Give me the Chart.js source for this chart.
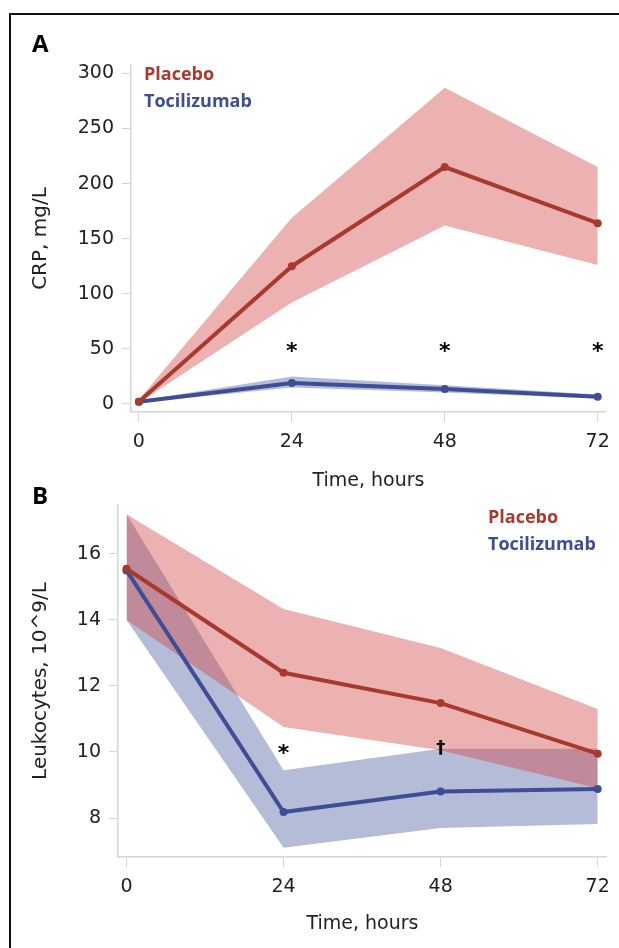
<!DOCTYPE html>
<html>
<head>
<meta charset="utf-8">
<script src="https://cdn.jsdelivr.net/npm/chart.js@4.4.0/dist/chart.umd.min.js"></script>
<style>
  html, body { margin: 0; padding: 0; background: #fff; }
  body { width: 619px; height: 948px; overflow: hidden; position: relative; }
  .rule { position: absolute; background: #111; }
  #ruleTop { left: 9px; top: 13px; width: 610px; height: 2px; }
  #ruleLeft { left: 9px; top: 13px; width: 2px; height: 935px; }
  canvas { position: absolute; left: 0; }
  #chartA { top: 0; }
  #chartB { top: 470px; }
</style>
</head>
<body>
<div class="rule" id="ruleTop"></div>
<div class="rule" id="ruleLeft"></div>
<canvas id="chartA" width="619" height="500" style="width:619px;height:500px"></canvas>
<canvas id="chartB" width="619" height="478" style="width:619px;height:478px"></canvas>
<script>
var hours = [0, 24, 48, 72];

// panel A: CRP, mg/L
var crpPlacebo = [2, 125, 215, 164];
var crpPlaceboLow = [1, 92, 162, 126];
var crpPlaceboHigh = [4, 169, 287, 215];
var crpToci = [2, 19, 13.5, 6.5];
var crpTociLow = [1, 15, 10.5, 5];
var crpTociHigh = [3, 25, 17, 8.5];
var crpTicks = [0, 50, 100, 150, 200, 250, 300];
var crpMarks = ["*", "*", "*"];
var crpMarkHours = [24, 48, 72];
var crpMarkValues = [52, 52, 52];

// panel B: leukocytes, 10^9/L
var wbcPlacebo = [15.55, 12.4, 11.48, 9.95];
var wbcPlaceboLow = [14.0, 10.76, 10.05, 8.9];
var wbcPlaceboHigh = [17.2, 14.33, 13.15, 11.3];
var wbcToci = [15.5, 8.18, 8.8, 8.88];
var wbcTociLow = [14.0, 7.1, 7.7, 7.82];
var wbcTociHigh = [17.2, 9.45, 10.1, 10.1];
var wbcTicks = [8, 10, 12, 14, 16];
var wbcMarks = ["*", "\u2020"];
var wbcMarkHours = [24, 48];
var wbcMarkValues = [10.1, 10.15];

var red = "#a9392c";
var blue = "#3d4e96";
var redFill = "rgba(210, 70, 70, 0.42)";
var blueFill = "rgba(60, 80, 150, 0.38)";
var axisGray = "#d6d6d6";
var labelFont = "'DejaVu Sans', sans-serif";
var boldFont = "'Open Sans', sans-serif";

Chart.defaults.font.family = labelFont;
Chart.defaults.font.size = 19;
Chart.defaults.color = "#222";

function pts(values) {
  return hours.map(function(h, i) { return { x: h, y: values[i] }; });
}

function lineSet(values, color, order) {
  return {
    data: pts(values), borderColor: color, backgroundColor: color,
    borderWidth: 4, pointRadius: 4, pointBorderWidth: 0, fill: false, order: order
  };
}

function bandSet(values, fillColor, order, target) {
  return {
    data: pts(values), borderWidth: 0, borderColor: "rgba(0,0,0,0)", pointRadius: 0,
    backgroundColor: fillColor, fill: target === undefined ? false : target, order: order
  };
}

function makeTextPlugin(cfg) {
  return {
    id: "panelText",
    afterDraw: function(chart) {
      var ctx = chart.ctx;
      var xs = chart.scales.x, ys = chart.scales.y;
      ctx.save();
      ctx.textBaseline = "middle";
      ctx.textAlign = "left";
      ctx.fillStyle = "#000";
      ctx.font = "bold 24px " + boldFont;
      ctx.fillText(cfg.letter, cfg.letterX, cfg.letterY);

      ctx.font = "bold 18px " + boldFont;
      ctx.fillStyle = red;
      ctx.fillText("Placebo", cfg.legendX, cfg.legendY);
      ctx.fillStyle = blue;
      ctx.fillText("Tocilizumab", cfg.legendX, cfg.legendY + 27);

      ctx.textAlign = "center";
      ctx.textBaseline = "alphabetic";
      ctx.fillStyle = "#000";
      cfg.marks.forEach(function(m, i) {
        ctx.font = (m === "*" ? "bold 22px " : "bold 18px ") + labelFont;
        var tm = ctx.measureText(m);
        var px = xs.getPixelForValue(cfg.markHours[i]);
        var py = ys.getPixelForValue(cfg.markValues[i]);
        ctx.fillText(m, px, py + (tm.actualBoundingBoxAscent - tm.actualBoundingBoxDescent) / 2);
      });
      ctx.restore();
    }
  };
}

function makeChart(id, cfg) {
  var ctx = document.getElementById(id).getContext("2d");
  return new Chart(ctx, {
    type: "line",
    data: {
      datasets: [
        lineSet(cfg.placebo, red, 0),
        lineSet(cfg.toci, blue, 1),
        bandSet(cfg.placeboLow, redFill, 2),
        bandSet(cfg.placeboHigh, redFill, 2, 2),
        bandSet(cfg.tociLow, blueFill, 3),
        bandSet(cfg.tociHigh, blueFill, 3, 4)
      ]
    },
    options: {
      responsive: false,
      animation: false,
      events: [],
      layout: { padding: cfg.padding },
      elements: { line: { tension: 0 } },
      plugins: { legend: { display: false }, tooltip: { enabled: false } },
      scales: {
        x: {
          type: "linear", min: cfg.xMin, max: cfg.xMax,
          afterBuildTicks: function(scale) {
            scale.ticks = hours.map(function(v) { return { value: v }; });
          },
          afterFit: function(scale) { scale.height = cfg.xHeight; },
          ticks: { padding: 9, maxRotation: 0, autoSkip: false },
          grid: { drawOnChartArea: false, drawTicks: true, tickLength: 10, color: axisGray },
          border: { display: true, color: axisGray, width: 1.5 },
          title: { display: true, text: "Time, hours", font: { size: 19 }, padding: { top: cfg.xTitlePad, bottom: cfg.xTitlePad } }
        },
        y: {
          type: "linear", min: cfg.yMin, max: cfg.yMax,
          afterBuildTicks: function(scale) {
            scale.ticks = cfg.yTicks.map(function(v) { return { value: v }; });
          },
          afterFit: function(scale) { scale.width = cfg.yWidth; },
          ticks: { padding: 8 },
          grid: { drawOnChartArea: false, drawTicks: true, tickLength: 9, color: axisGray },
          border: { display: true, color: axisGray, width: 1.5 },
          title: { display: true, text: cfg.yTitle, font: { size: 20 }, padding: { top: 29, bottom: 0 } }
        }
      }
    },
    plugins: [makeTextPlugin(cfg)]
  });
}

makeChart("chartA", {
  placebo: crpPlacebo, placeboLow: crpPlaceboLow, placeboHigh: crpPlaceboHigh,
  toci: crpToci, tociLow: crpTociLow, tociHigh: crpTociHigh,
  yTicks: crpTicks, yMin: -7.3, yMax: 307.6, xMin: -1.24, xMax: 73.3,
  yTitle: "CRP, mg/L", yWidth: 131, xHeight: 88, xTitlePad: 8,
  padding: { top: 65, right: 12, left: 0, bottom: 0 },
  letter: "A", letterX: 32, letterY: 45, legendX: 144, legendY: 75,
  marks: crpMarks, markHours: crpMarkHours, markValues: crpMarkValues
});

makeChart("chartB", {
  placebo: wbcPlacebo, placeboLow: wbcPlaceboLow, placeboHigh: wbcPlaceboHigh,
  toci: wbcToci, tociLow: wbcTociLow, tociHigh: wbcTociHigh,
  yTicks: wbcTicks, yMin: 6.82, yMax: 17.48, xMin: -1.3, xMax: 73.4,
  yTitle: "Leukocytes, 10^9/L", yWidth: 118, xHeight: 91, xTitlePad: 13,
  padding: { top: 35, right: 12, left: 0, bottom: 0 },
  letter: "B", letterX: 32, letterY: 27, legendX: 488, legendY: 48,
  marks: wbcMarks, markHours: wbcMarkHours, markValues: wbcMarkValues
});
</script>
</body>
</html>
